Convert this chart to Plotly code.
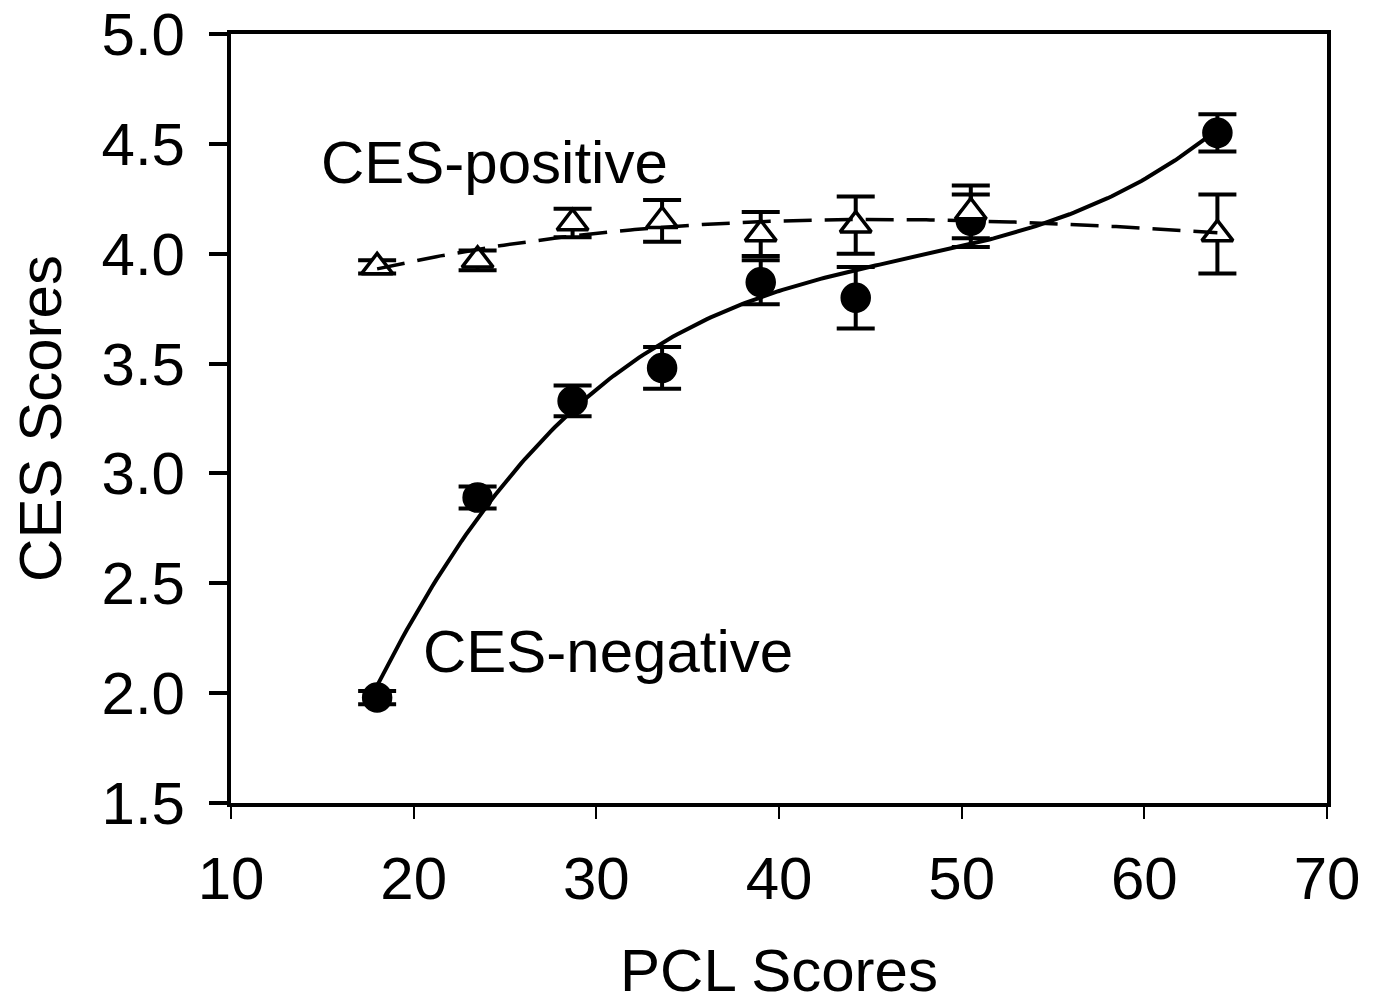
import numpy as np
import plotly.graph_objects as go

# PCL score group means (x)
pcl = [18.0, 23.5, 28.7, 33.6, 39.0, 44.2, 50.5, 64.0]

# CES-negative means and error (SE)
neg_mean = [1.98, 2.89, 3.33, 3.48, 3.87, 3.80, 4.15, 4.55]
neg_err = [0.03, 0.05, 0.07, 0.095, 0.10, 0.14, 0.12, 0.085]

# CES-positive means and error (SE)
pos_mean = [3.94, 3.97, 4.14, 4.15, 4.09, 4.13, 4.19, 4.09]
pos_err = [0.03, 0.045, 0.065, 0.095, 0.10, 0.13, 0.12, 0.18]

x_ticks = [10, 20, 30, 40, 50, 60, 70]
y_ticks = [1.5, 2.0, 2.5, 3.0, 3.5, 4.0, 4.5, 5.0]

FONT = "Liberation Sans, Arial, sans-serif"
FS = 60

# cubic polynomial trendlines fitted to the data (as in the original spreadsheet fit)
xfit = np.linspace(min(pcl), max(pcl), 200)
neg_fit = np.polyval(np.polyfit(pcl, neg_mean, 3), xfit)
pos_fit = np.polyval(np.polyfit(pcl, pos_mean, 3), xfit)

fig = go.Figure()

fig.add_trace(go.Scatter(
    x=pcl, y=neg_mean, mode="markers", name="CES-negative",
    marker=dict(symbol="circle", size=29, color="black", line=dict(width=1.5, color="black")),
    error_y=dict(type="data", array=neg_err, visible=True, color="black", thickness=4, width=19),
    showlegend=False,
))
fig.add_trace(go.Scatter(
    x=pcl, y=pos_mean, mode="markers", name="CES-positive",
    marker=dict(symbol="triangle-up", size=27, color="white", line=dict(width=3.5, color="black")),
    error_y=dict(type="data", array=pos_err, visible=True, color="black", thickness=4, width=19),
    showlegend=False,
))
fig.add_trace(go.Scatter(
    x=xfit, y=neg_fit, mode="lines", line=dict(color="black", width=4),
    showlegend=False, hoverinfo="skip",
))
fig.add_trace(go.Scatter(
    x=xfit, y=pos_fit, mode="lines", line=dict(color="black", width=3.5, dash="28px,13px"),
    showlegend=False, hoverinfo="skip",
))

fig.add_annotation(x=24.45, y=4.415, text="CES-positive", showarrow=False,
                   xanchor="center", yanchor="middle", font=dict(family=FONT, size=FS, color="black"))
fig.add_annotation(x=30.64, y=2.19, text="CES-negative", showarrow=False,
                   xanchor="center", yanchor="middle", font=dict(family=FONT, size=FS, color="black"))

fig.update_layout(
    width=1380, height=1004,
    margin=dict(l=231, r=53, t=34, b=201),
    paper_bgcolor="white", plot_bgcolor="white",
    font=dict(family=FONT, size=FS, color="black"),
    xaxis=dict(
        range=[10, 70], tickvals=x_ticks, ticktext=[str(v) for v in x_ticks],
        showgrid=False, zeroline=False, automargin=False,
        showline=True, linecolor="black", linewidth=4, mirror=True,
        ticks="outside", ticklen=12, tickwidth=2, tickcolor="black",
        tickfont=dict(family=FONT, size=FS, color="black"),
        ticklabelstandoff=8, ticklabeloverflow="allow",
        title=dict(text="PCL Scores", font=dict(family=FONT, size=FS, color="black"), standoff=50),
    ),
    yaxis=dict(
        range=[1.5, 5.0], tickvals=y_ticks, ticktext=[f"{v:.1f}" for v in y_ticks],
        showgrid=False, zeroline=False, automargin=False,
        showline=True, linecolor="black", linewidth=4, mirror=True,
        ticks="outside", ticklen=18, tickwidth=4, tickcolor="black",
        tickfont=dict(family=FONT, size=FS, color="black"),
        ticklabelstandoff=12, ticklabeloverflow="allow",
        title=dict(text="CES Scores", font=dict(family=FONT, size=FS, color="black"), standoff=22),
    ),
)

# remove the default 8px page margin so the figure fills the window exactly
fig.write_html(
    "out.html",
    config={"displayModeBar": False},
    post_script="document.body.style.margin='0';document.body.style.overflow='hidden';",
)
